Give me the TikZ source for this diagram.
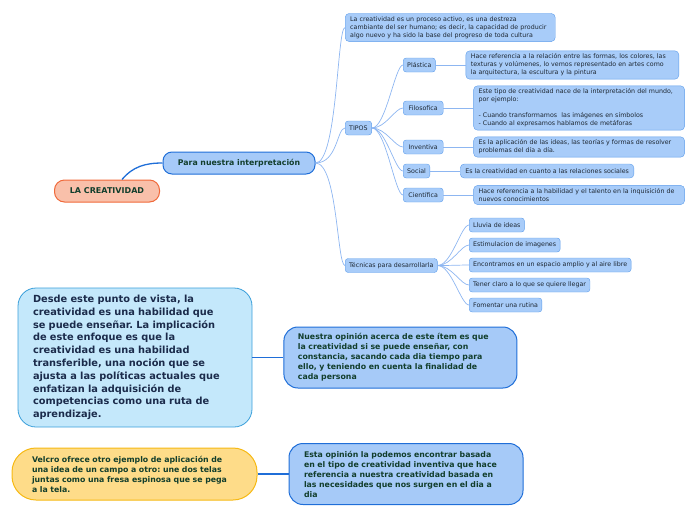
\documentclass[tikz,border=0pt]{standalone}
\usepackage{fontspec}
\setmainfont{DejaVu Sans}
\usetikzlibrary{positioning}
\frenchspacing

\definecolor{rootfill}{HTML}{F9C0AA}
\definecolor{rootline}{HTML}{F0693A}
\definecolor{mainfill}{HTML}{A6CAF8}
\definecolor{mainline}{HTML}{1F6ED8}
\definecolor{boxfill}{HTML}{A8CCF9}
\definecolor{boxline}{HTML}{5E9DEB}
\definecolor{cyanfill}{HTML}{C4E8FB}
\definecolor{cyanline}{HTML}{3A9FDA}
\definecolor{yellowfill}{HTML}{FEDC89}
\definecolor{yellowline}{HTML}{F6B914}
\definecolor{branchcol}{HTML}{8DB6F1}
\definecolor{darktext}{HTML}{123E2C}
\definecolor{smalltext}{HTML}{1E2833}
\definecolor{navytext}{HTML}{1B2B4B}

\begin{document}
\begin{tikzpicture}[x=1pt,y=-1pt,node distance=30pt,
    small/.style={font=\fontsize{6.3}{8}\selectfont},
    bigbold/.style={font=\fontsize{7.8}{10}\selectfont\bfseries},
    topic/.style={draw=boxline,fill=boxfill,rounded corners=3pt,text=smalltext,small,
      minimum height=14pt,inner xsep=4pt,inner ysep=1pt,anchor=west},
    note/.style={draw=boxline,fill=boxfill,rounded corners=4pt,text=smalltext,small,
      inner xsep=5pt,inner ysep=3pt,align=left},
    central/.style={draw=mainline,fill=mainfill,line width=1pt,text=darktext,bigbold,
      rounded corners=9pt,minimum height=22pt},
    opinion/.style={draw=mainline,fill=mainfill,line width=1pt,text=darktext,bigbold,
      rounded corners=14pt,align=left,minimum height=61pt},
    branch/.style={draw=branchcol,line width=0.7pt},
    trunk/.style={draw=mainline,line width=1.3pt},
    curvy/.style={out=0,in=180,out distance=#1,in distance=8pt},
    curvy/.default=14pt]
    \useasboundingbox (0,0) rectangle (696,520);

    \node[draw=rootline,fill=rootfill,line width=1pt,text=darktext,
      font=\fontsize{8}{10}\selectfont\bfseries,rounded corners=10pt,
      minimum width=105pt,minimum height=22pt] (root) at (107,191) {LA CREATIVIDAD};
    \node[central,minimum width=152pt] (para) at (239,163) {Para nuestra interpretación};

    \node[note,text width=200pt,anchor=west] (proceso) at (345,27.5)
      {La creatividad es un proceso activo, es una destreza\\cambiante del ser humano; es decir, la capacidad de producir\\algo nuevo y ha sido la base del progreso de toda cultura};
    \node[topic] (tipos) at (345,128) {TIPOS};
    \node[topic] (tecnicas) at (345,265.5) {Técnicas para desarrollarla};

    \node[topic] (plastica) at (403,65) {Plástica};
    \node[topic,minimum width=40pt] (filosofica) at (403,108) {Filosofica};
    \node[topic,minimum width=40pt] (inventiva) at (403,147) {Inventiva};
    \node[topic] (social) at (403,171) {Social};
    \node[topic,minimum width=40pt] (cientifica) at (403,195) {Científica};

    \node[note,text width=203pt] (dplastica) [right=of plastica]
      {Hace referencia a la relación entre las formas, los colores, las\\texturas y volúmenes, lo vemos representado en artes como\\la arquitectura, la escultura y la pintura};
    \node[note,text width=201pt] (dfilosofica) [right=of filosofica]
      {Este tipo de creatividad nace de la interpretación del mundo,\\por ejemplo:\\[8pt]- Cuando transformamos\ \ las imágenes en símbolos\\- Cuando al expresamos hablamos de metáforas};
    \node[note,text width=201pt] (dinventiva) [right=of inventiva]
      {Es la aplicación de las ideas, las teorías y formas de resolver\\problemas del día a día.};
    \node[note,minimum height=14pt,inner ysep=1pt] (dsocial) [right=of social]
      {Es la creatividad en cuanto a las relaciones sociales};
    \node[note,text width=201pt] (dcientifica) [right=of cientifica]
      {Hace referencia a la habilidad y el talento en la inquisición de\\nuevos conocimientos};

    \node[topic] (lluvia) at (469,225) {Lluvia de ideas};
    \node[topic] (estimulacion) at (469,245) {Estimulacion de imagenes};
    \node[topic] (encontramos) at (469,265) {Encontramos en un espacio amplio y al aire libre};
    \node[topic] (tener) at (469,285) {Tener claro a lo que se quiere llegar};
    \node[topic] (fomentar) at (469,305) {Fomentar una rutina};

    \node[draw=cyanline,fill=cyanfill,line width=0.8pt,rounded corners=18pt,text=navytext,
      font=\fontsize{9.8}{12.8}\selectfont\bfseries,align=left,text width=204pt,
      inner xsep=15pt,minimum height=139pt] (desde) at (135,357.5)
      {Desde este punto de vista, la\\creatividad es una habilidad que\\se puede enseñar. La implicación\\de este enfoque es que la\\creatividad es una habilidad\\transferible, una noción que se\\ajusta a las políticas actuales que\\enfatizan la adquisición de\\competencias como una ruta de\\aprendizaje.};
    \node[opinion,text width=205pt,inner xsep=14pt] (nuestra) [right=31pt of desde]
      {Nuestra opinión acerca de este ítem es que\\la creatividad si se puede enseñar, con\\constancia, sacando cada dia tiempo para\\ello, y teniendo en cuenta la finalidad de\\cada persona};
    \node[draw=yellowline,fill=yellowfill,line width=1pt,text=darktext,bigbold,
      rounded corners=24pt,align=left,text width=205pt,inner xsep=20pt,
      minimum height=52pt] (velcro) at (134.5,474)
      {Velcro ofrece otro ejemplo de aplicación de\\una idea de un campo a otro: une dos telas\\juntas como una fresa espinosa que se pega\\a la tela.};
    \node[opinion,text width=204pt,inner xsep=15pt] (esta) [right=31pt of velcro]
      {Esta opinión la podemos encontrar basada\\en el tipo de creatividad inventiva que hace\\referencia a nuestra creatividad basada en\\las necesidades que nos surgen en el dia a\\dia};

    \path[trunk] ([xshift=15pt]root.north) edge[out=50,in=180] (para.west);
    \path[branch] (para.east) edge[curvy=22pt] (proceso.west)
      edge[curvy=22pt] (tipos.west)
      edge[curvy=22pt] (tecnicas.west);
    \path[branch] (tipos.east) edge[curvy] (plastica.west)
      edge[curvy] (filosofica.west)
      edge[curvy] (inventiva.west)
      edge[curvy] (social.west)
      edge[curvy] (cientifica.west);
    \path[branch] (plastica) edge (dplastica)
      (filosofica) edge (dfilosofica)
      (inventiva) edge (dinventiva)
      (social) edge (dsocial)
      (cientifica) edge (dcientifica);
    \path[branch] (tecnicas.east) edge[curvy] (lluvia.west)
      edge[curvy] (estimulacion.west)
      edge[curvy] (encontramos.west)
      edge[curvy] (tener.west)
      edge[curvy] (fomentar.west);
    \path[trunk] (desde) edge (nuestra)
      (velcro) edge (esta);
\end{tikzpicture}
\end{document}
